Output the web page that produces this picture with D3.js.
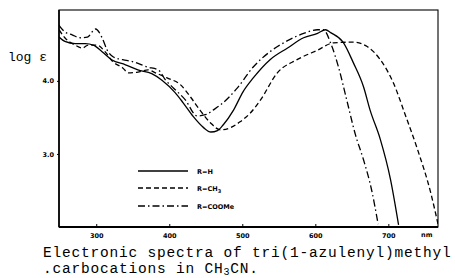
<!DOCTYPE html>
<html>
<head>
<meta charset="utf-8">
<script src="https://cdn.jsdelivr.net/npm/d3@7"></script>
<style>
body { margin: 0; background: #fff; }
svg { display: block; }
.tick text { font-family: "DejaVu Sans", sans-serif; font-weight: bold; }
</style>
</head>
<body>
<svg width="455" height="278"></svg>
<script>
// spectra: [wavelength nm, log e]
var seriesH = [[249,4.60],[257,4.54],[271,4.51],[285,4.51],[296,4.49],[308,4.40],[321,4.29],[340,4.22],[357,4.15],[376,4.10],[390,4.01],[408,3.84],[419,3.70],[433,3.51],[447,3.36],[457,3.30],[466,3.32],[474,3.40],[488,3.60],[501,3.85],[515,4.04],[538,4.29],[562,4.45],[584,4.59],[603,4.65],[614,4.70],[621,4.66],[638,4.53],[652,4.25],[666,3.92],[675,3.60],[689,3.20],[703,2.65],[714,2.03]];
var seriesCH3 = [[249,4.70],[257,4.59],[271,4.49],[281,4.45],[289,4.49],[301,4.49],[312,4.40],[323,4.26],[336,4.18],[344,4.11],[357,4.12],[371,4.15],[381,4.11],[397,4.04],[415,3.95],[429,3.78],[442,3.60],[456,3.43],[470,3.33],[484,3.36],[497,3.44],[511,3.56],[525,3.74],[548,4.11],[575,4.29],[603,4.42],[625,4.52],[652,4.53],[671,4.47],[689,4.29],[707,3.97],[723,3.54],[740,3.06],[758,2.47],[768,2.04]];
var seriesCOOMe = [[249,4.76],[257,4.67],[267,4.63],[278,4.59],[288,4.60],[299,4.71],[308,4.59],[315,4.42],[323,4.33],[336,4.29],[351,4.26],[370,4.19],[385,4.15],[395,4.01],[406,3.90],[422,3.74],[438,3.52],[451,3.54],[460,3.60],[470,3.67],[493,3.90],[515,4.19],[538,4.40],[562,4.55],[584,4.65],[603,4.70],[611,4.70],[622,4.49],[632,4.18],[643,3.74],[655,3.26],[666,2.92],[677,2.51],[686,2.04]];

var xTicks = [300, 400, 500, 600, 700];
var yTicks = [3.0, 4.0];
var legendNames = ["R=H", "R=CH", "R=COOMe"];
var dashes = ["none", "5,3", "7,3,1.5,3"];

var svg = d3.select("svg");
var pl = 59, pr = 438, pt = 10, pb = 227;

var x = d3.scaleLinear().domain([249, 768]).range([pl, pr]);
var y = d3.scaleLinear().domain([2.0, 4.97]).range([pb, pt]);

// frame
svg.append("rect")
    .attr("x", pl).attr("y", pt)
    .attr("width", pr - pl).attr("height", pb - pt)
    .attr("fill", "none").attr("stroke", "#000").attr("stroke-width", 1.1);
svg.append("line").attr("x1", pl).attr("x2", pl).attr("y1", pt).attr("y2", pb)
    .attr("stroke", "#000").attr("stroke-width", 1.6);
svg.append("line").attr("x1", pl).attr("x2", pr).attr("y1", pb).attr("y2", pb)
    .attr("stroke", "#000").attr("stroke-width", 1.8);

// axes
var xAxis = svg.append("g").attr("transform", "translate(0," + pb + ")")
    .call(d3.axisBottom(x).tickValues(xTicks).tickSizeInner(-3).tickSizeOuter(0).tickPadding(6));
xAxis.select(".domain").remove();
xAxis.selectAll("text").attr("font-size", 6.5);

var yAxis = svg.append("g").attr("transform", "translate(" + pl + ",0)")
    .call(d3.axisLeft(y).tickValues(yTicks).tickFormat(d3.format(".1f")).tickSizeInner(2).tickSizeOuter(0).tickPadding(3));
yAxis.select(".domain").remove();
yAxis.selectAll("text").attr("font-size", 6.5);

svg.append("text").attr("x", 421).attr("y", 237)
    .attr("font-family", "DejaVu Sans").attr("font-weight", "bold").attr("font-size", 6.5)
    .text("nm");

svg.append("text").attr("x", 8).attr("y", 61)
    .attr("font-family", "Liberation Mono").attr("font-size", 13)
    .text("log ε");

// curves
var line = d3.line()
    .x(function(d) { return x(d[0]); })
    .y(function(d) { return y(d[1]); })
    .curve(d3.curveMonotoneX);

var all = [seriesH, seriesCH3, seriesCOOMe];
svg.append("defs").append("clipPath").attr("id", "plot")
    .append("rect").attr("x", pl).attr("y", pt)
    .attr("width", pr - pl).attr("height", pb - pt);

svg.append("g").attr("clip-path", "url(#plot)")
    .selectAll("path").data(all).enter().append("path")
    .attr("d", line)
    .attr("fill", "none")
    .attr("stroke", "#000")
    .attr("stroke-width", 1.3)
    .attr("stroke-dasharray", function(d, i) { return dashes[i]; });

// legend
var legend = svg.append("g");
var ly = [171, 188, 206];
legendNames.forEach(function(name, i) {
    legend.append("line")
        .attr("x1", 138).attr("x2", 188).attr("y1", ly[i]).attr("y2", ly[i])
        .attr("stroke", "#000").attr("stroke-width", 1.3)
        .attr("stroke-dasharray", dashes[i]);
    var t = legend.append("text").attr("x", 197).attr("y", ly[i] + 2.5)
        .attr("font-family", "DejaVu Sans").attr("font-weight", "bold").attr("font-size", 6.5)
        .text(name);
    if (i == 1) t.append("tspan").attr("dy", 2).attr("font-size", 5).text("3");
});

// caption
var cap = svg.append("g").attr("font-family", "Liberation Mono").attr("font-size", 14.5)
    .attr("letter-spacing", 0.8);
cap.append("text").attr("x", 43).attr("y", 257)
    .text("Electronic spectra of tri(1-azulenyl)methyl");
var c2 = cap.append("text").attr("x", 43).attr("y", 273).text(".carbocations in CH");
c2.append("tspan").attr("dy", 2).attr("font-size", 10).text("3");
c2.append("tspan").attr("dy", -2).text("CN.");
</script>
</body>
</html>
